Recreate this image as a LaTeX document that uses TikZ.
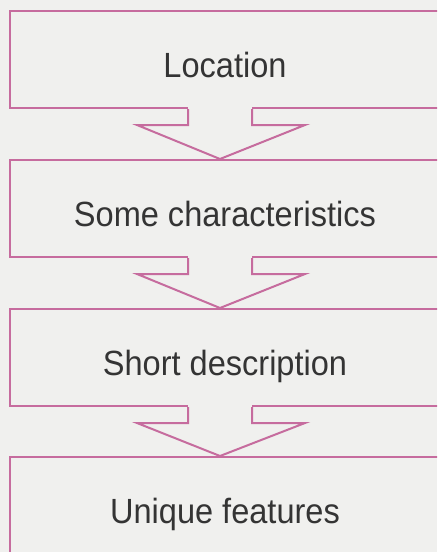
\documentclass[tikz,border=0pt]{standalone}
\usepackage{fontspec}
\setmainfont[FakeStretch=0.93]{Liberation Sans}
\usetikzlibrary{positioning}
\definecolor{paper}{RGB}{240,240,238}
\definecolor{boxpink}{RGB}{198,108,158}
\definecolor{inkgray}{RGB}{52,52,52}

\begin{document}
\begin{tikzpicture}[x=1pt, y=-1pt,
    stage/.style={draw=boxpink, line width=2pt, minimum width=430pt,
        minimum height=97pt, inner sep=0pt, text=inkgray,
        font=\fontsize{35pt}{38pt}\selectfont,
        text height=35pt, text depth=0pt},
    chevron/.style={draw=boxpink, line width=2pt, line join=miter}]
    % Paper, cut to the scan
    \path [use as bounding box, fill=paper] (0,0) rectangle (437,552);
    \clip (0,0) rectangle (437,552);
    % Stages
    \node [stage] (loc) at (225,59.5) {Location};
    \node [stage, below=50pt of loc] (char) {Some characteristics};
    \node [stage, below=50pt of char] (desc) {Short description};
    \node [stage, below=49pt of desc] (feat) {Unique features};
    % Block arrows from stage to stage
    \foreach \a/\b in {loc/char, char/desc, desc/feat} {
        \fill [paper] ([xshift=-37pt,yshift=2pt]\a.south)
            rectangle ([xshift=27pt,yshift=-2pt]\a.south);
        \draw [chevron] ([xshift=-37pt]\a.south)
            -- ([xshift=-37pt,yshift=-16pt]\a.south)
            -- ([xshift=-88pt,yshift=-16pt]\a.south)
            -- ([xshift=-5pt]\b.north)
            -- ([xshift=80pt,yshift=-16pt]\a.south)
            -- ([xshift=27pt,yshift=-16pt]\a.south)
            -- ([xshift=27pt]\a.south);
    }
\end{tikzpicture}
\end{document}
